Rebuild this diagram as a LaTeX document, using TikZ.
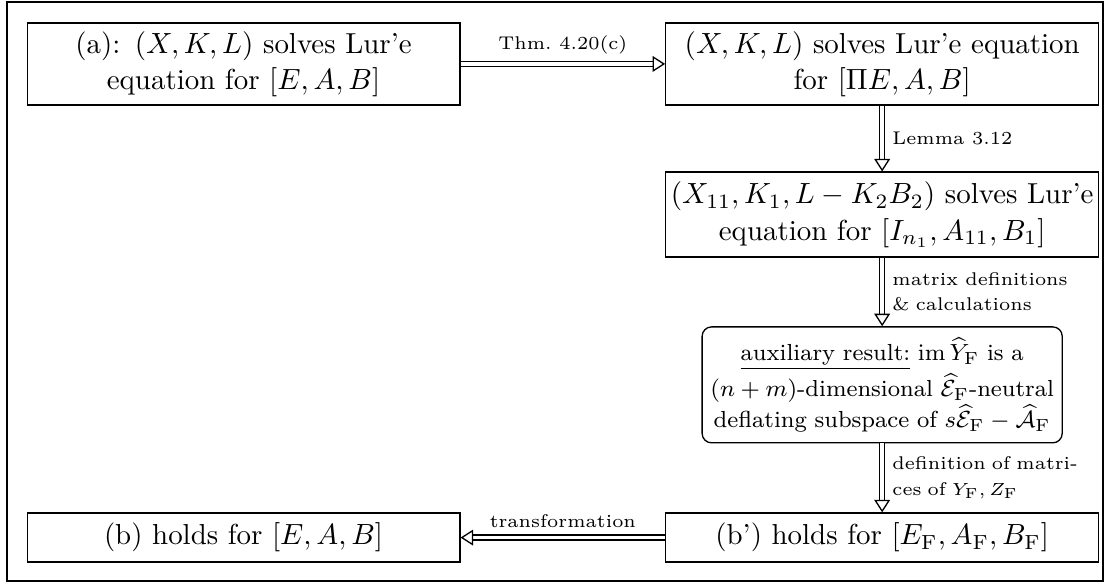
\documentclass[tikz,border=0pt]{standalone}
\usepackage{amsmath,amssymb}
\usetikzlibrary{arrows.meta}
\begin{document}
\begin{tikzpicture}[x=1pt,y=-1pt,
  box/.style={draw, line width=0.45pt, text width=146pt, align=center,
    inner xsep=1pt, inner ysep=1pt, minimum width=148.2pt,
    font=\fontsize{9.9}{12.4}\selectfont},
  rbox/.style={box, rounded corners=3.2pt, text width=119pt, minimum width=123.3pt,
    inner xsep=2pt, minimum height=39.7pt, font=\fontsize{7.95}{10.6}\selectfont},
  dbl/.style={double, double distance=1.3pt, line width=0.45pt,
    -{Triangle[open, length=4.3pt, width=5.4pt, line width=0.45pt]}},
  lbl/.style={font=\fontsize{6.3}{8.6}\selectfont, inner sep=2pt},
  plbl/.style={lbl, text width=60pt, align=left}]
\useasboundingbox (0,0) rectangle (379.1,200);
\draw[line width=0.45pt] (2.4,0.7) rectangle (377.7,199);
\node[box, minimum height=28.1pt] (a) at (83.4,21.9) {(a): $(X,K,L)$ solves Lur'e\\ equation for $[E,A,B]$};
\node[box, minimum height=28.1pt] (b) at (302.1,21.9) {$(X,K,L)$ solves Lur'e equation\\ for $[\Pi E,A,B]$};
\node[box, minimum height=29.1pt] (c) at (302.1,73.5) {$(X_{11},K_1,L-K_2B_2)$ solves Lur'e\\ equation for $[I_{n_1},A_{11},B_1]$};
\node[rbox] (d) at (302.1,131.8) {\underline{auxiliary result:} $\operatorname{im}\widehat{Y}_{\mathrm{F}}$ is a\\ $(n+m)$-dimensional $\widehat{\mathcal{E}}_{\mathrm{F}}$-neutral\\ deflating subspace of $s\widehat{\mathcal{E}}_{\mathrm{F}}-\widehat{\mathcal{A}}_{\mathrm{F}}$};
\node[box, minimum height=16.8pt] (e) at (302.1,184.1) {(b') holds for $[E_{\mathrm{F}},A_{\mathrm{F}},B_{\mathrm{F}}]$};
\node[box, minimum height=16.8pt] (f) at (83.4,184.1) {(b) holds for $[E,A,B]$};
\draw[dbl] (a) -- node[lbl, above, yshift=1pt] {Thm.~4.20(c)} (b);
\draw[dbl] (b) -- node[lbl, right, xshift=1.3pt] {Lemma 3.12} (c);
\draw[dbl] (c) -- node[plbl, right, xshift=1.3pt] {matrix\hfill definitions\\\& calculations} (d);
\draw[dbl] (d) -- node[plbl, right, xshift=1.3pt] {\mbox{definition of matri-}\\ces of $Y_{\mathrm{F}},Z_{\mathrm{F}}$} (e);
\draw[dbl] (e) -- node[lbl, above, yshift=1pt] {transformation} (f);
\end{tikzpicture}
\end{document}
